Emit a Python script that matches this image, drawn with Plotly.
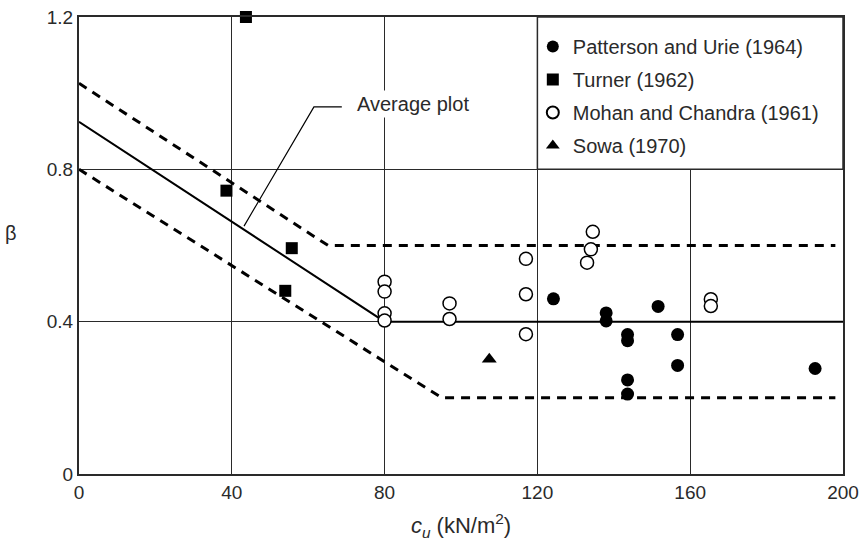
import plotly.graph_objects as go

# ---- data ----
patterson_x = [124.2, 138, 138, 143.6, 143.6, 143.6, 143.6, 151.6, 156.7, 156.7, 192.7]
patterson_y = [0.46, 0.423, 0.402, 0.366, 0.35, 0.247, 0.21, 0.44, 0.366, 0.285, 0.277]

turner_x = [43.7, 38.6, 55.7, 54.0]
turner_y = [1.2, 0.744, 0.593, 0.481]

mohan_x = [80, 80, 80, 80, 97, 97, 117, 117, 117, 134.5, 134, 133, 165.4, 165.4]
mohan_y = [0.505, 0.479, 0.422, 0.403, 0.448, 0.407, 0.565, 0.472, 0.367, 0.636, 0.59, 0.555, 0.459, 0.441]

sowa_x = [107.4]
sowa_y = [0.301]

avg_x = [0, 80, 200]
avg_y = [0.925, 0.40, 0.40]
upper_x = [0, 65.2, 198]
upper_y = [1.026, 0.60, 0.60]
lower_x = [0, 95, 198]
lower_y = [0.80, 0.20, 0.20]
leader_x = [43.2, 61.5, 68.8]
leader_y = [0.651, 0.964, 0.964]

x_ticks = [0, 40, 80, 120, 160, 200]
y_ticks = [0, 0.4, 0.8, 1.2]
y_tick_labels = ["0", "0.4", "0.8", "1.2"]

FONT = "Liberation Sans, Arial, Helvetica, sans-serif"
DARK = "#2a2a2a"

fig = go.Figure()

fig.add_trace(go.Scatter(x=avg_x, y=avg_y, mode="lines", line=dict(color="black", width=2),
                         showlegend=False, hoverinfo="skip"))
fig.add_trace(go.Scatter(x=upper_x, y=upper_y, mode="lines",
                         line=dict(color="black", width=3, dash="9px,7px"),
                         showlegend=False, hoverinfo="skip"))
fig.add_trace(go.Scatter(x=lower_x, y=lower_y, mode="lines",
                         line=dict(color="black", width=3, dash="9px,7px"),
                         showlegend=False, hoverinfo="skip"))
fig.add_trace(go.Scatter(x=leader_x, y=leader_y, mode="lines",
                         line=dict(color="black", width=1.2),
                         showlegend=False, hoverinfo="skip"))

fig.add_trace(go.Scatter(x=patterson_x, y=patterson_y, mode="markers", name="Patterson and Urie (1964)",
                         legendgroup="a",
                         marker=dict(symbol="circle", size=13, color="black", line=dict(width=0)),
                         cliponaxis=False))
fig.add_trace(go.Scatter(x=turner_x, y=turner_y, mode="markers", name="Turner (1962)",
                         legendgroup="b",
                         marker=dict(symbol="square", size=12, color="black", line=dict(width=0)),
                         cliponaxis=False))
fig.add_trace(go.Scatter(x=mohan_x, y=mohan_y, mode="markers", name="Mohan and Chandra (1961)",
                         legendgroup="c",
                         marker=dict(symbol="circle", size=13, color="white",
                                     line=dict(width=1.5, color="black")),
                         cliponaxis=False))
fig.add_trace(go.Scatter(x=sowa_x, y=sowa_y, mode="markers", name="Sowa (1970)",
                         legendgroup="d",
                         marker=dict(symbol="triangle-up", size=13, color="black", line=dict(width=0)),
                         cliponaxis=False))

# white box behind the legend (covers the grid cell)
fig.add_shape(type="rect", xref="x", yref="y", x0=120, x1=200, y0=0.8, y1=1.2,
              fillcolor="white", line=dict(color=DARK, width=1.5), layer="above")

fig.add_annotation(x=72, y=0.972, xref="x", yref="y", text="Average plot", showarrow=False,
                   xanchor="left", yanchor="middle", bgcolor="white",
                   font=dict(family=FONT, size=20, color=DARK), borderpad=2)

fig.add_annotation(x=-0.089, y=0.527, xref="paper", yref="paper", text="β", showarrow=False,
                   xanchor="center", yanchor="middle",
                   font=dict(family=FONT, size=20, color=DARK))

fig.update_layout(
    width=865, height=546,
    margin=dict(l=79, r=22, t=17, b=72),
    paper_bgcolor="white", plot_bgcolor="white",
    font=dict(family=FONT, size=19, color=DARK),
    legend=dict(x=0.594, y=0.978, xanchor="left", yanchor="top",
                bgcolor="rgba(0,0,0,0)", borderwidth=0,
                font=dict(family=FONT, size=20, color=DARK),
                itemsizing="constant", traceorder="grouped", tracegroupgap=4),
    xaxis=dict(range=[0, 200], tickvals=x_ticks, showgrid=True, gridcolor=DARK, gridwidth=1.2,
               zeroline=False, showline=True, linecolor=DARK, linewidth=2, mirror=True,
               ticks="", ticklen=0, automargin=False, ticklabeloverflow="allow",
               title=dict(text="<i>c<sub>u</sub></i> (kN/m<sup>2</sup>)", standoff=16,
                          font=dict(family=FONT, size=22, color=DARK))),
    yaxis=dict(range=[0, 1.2], tickvals=y_ticks, ticktext=y_tick_labels, showgrid=True,
               gridcolor=DARK, gridwidth=1.2, zeroline=False, showline=True, linecolor=DARK,
               linewidth=2, mirror=True, ticks="", ticklen=0, automargin=False,
               ticklabeloverflow="allow"),
)

fig.write_html("out.html",
               config={"displayModeBar": False},
               post_script="document.body.style.margin='0';document.body.style.overflow='hidden';")
